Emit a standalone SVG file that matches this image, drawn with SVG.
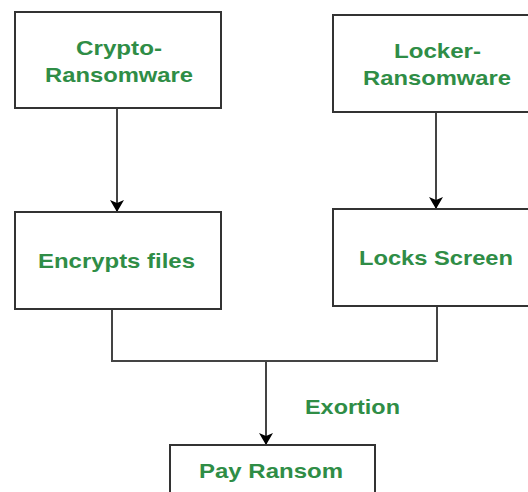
<svg xmlns="http://www.w3.org/2000/svg" width="528" height="492" viewBox="0 0 528 492">
  <style>
    .box { fill: #ffffff; stroke: #333333; stroke-width: 2; }
    .label { font-family: "Liberation Sans", Arial, sans-serif; font-weight: bold; font-size: 20.5px; fill: #2f8d46; text-anchor: middle; }
    .wire { fill: none; stroke: #444444; stroke-width: 2; }
  </style>
  <defs>
    <marker id="arrow" viewBox="0 0 12 14" refX="12" refY="7" markerWidth="12" markerHeight="14" markerUnits="userSpaceOnUse" orient="auto">
      <path d="M0,0 L12,7 L0,14 L3,7 Z" fill="#000000"/>
    </marker>
  </defs>
  <rect width="528" height="492" fill="#ffffff"/>

  <g id="connectors">
    <path class="wire" d="M117,108 V212" marker-end="url(#arrow)"/>
    <path class="wire" d="M436,112 V209" marker-end="url(#arrow)"/>
    <path class="wire" d="M112,309 V361 H437 V306"/>
    <path class="wire" d="M266,361 V445" marker-end="url(#arrow)"/>
    <text class="label" x="352.5" y="414" textLength="95" lengthAdjust="spacingAndGlyphs">Exortion</text>
  </g>

  <g id="crypto-ransomware">
    <rect class="box" x="15" y="12" width="206" height="96"/>
    <text class="label" x="119" y="55" textLength="86" lengthAdjust="spacingAndGlyphs">Crypto-</text>
    <text class="label" x="119" y="82" textLength="148" lengthAdjust="spacingAndGlyphs">Ransomware</text>
  </g>

  <g id="locker-ransomware">
    <rect class="box" x="333" y="15" width="206" height="97"/>
    <text class="label" x="437.5" y="58" textLength="87" lengthAdjust="spacingAndGlyphs">Locker-</text>
    <text class="label" x="437" y="85" textLength="148" lengthAdjust="spacingAndGlyphs">Ransomware</text>
  </g>

  <g id="encrypts-files">
    <rect class="box" x="15" y="212" width="206" height="97"/>
    <text class="label" x="116.5" y="268" textLength="157" lengthAdjust="spacingAndGlyphs">Encrypts files</text>
  </g>

  <g id="locks-screen">
    <rect class="box" x="333" y="209" width="206" height="97"/>
    <text class="label" x="436" y="265" textLength="154" lengthAdjust="spacingAndGlyphs">Locks Screen</text>
  </g>

  <g id="pay-ransom">
    <rect class="box" x="170" y="445" width="205" height="60"/>
    <text class="label" x="271" y="478" textLength="144" lengthAdjust="spacingAndGlyphs">Pay Ransom</text>
  </g>
</svg>
